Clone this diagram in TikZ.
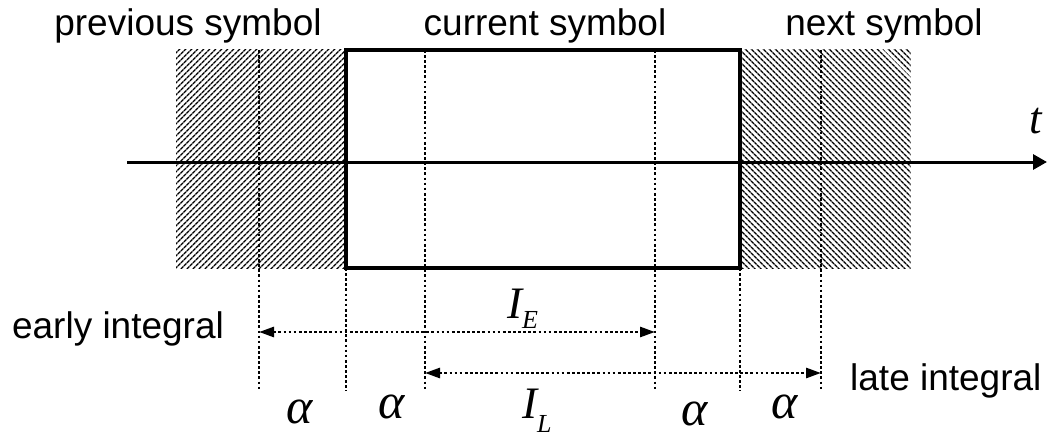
\documentclass[tikz,border=0pt]{standalone}
\usepackage{fontspec}
\setmainfont{Liberation Sans}
\newfontfamily\timesfont{Liberation Serif}
\usetikzlibrary{arrows.meta,patterns.meta}

\begin{document}
\begin{tikzpicture}[x=1pt,y=-1pt,
	txt/.style={ inner sep=0pt, anchor=base, font=\fontsize{37}{42}\selectfont },
	sym/.style={ inner sep=0pt, anchor=base, font=\fontsize{45}{50}\selectfont\timesfont\itshape },
	alph/.style={ sym, font=\fontsize{50}{54}\selectfont\timesfont\itshape },
	vline/.style={ line width=2.7pt, dash pattern=on 2.7pt off 2.4pt },
	dimline/.style={ vline, {Triangle[length=15pt,width=10pt]}-{Triangle[length=15pt,width=10pt]} },
	hatchl/.style={ rectangle, inner sep=0pt, minimum width=170pt, minimum height=218pt, pattern={Lines[angle=45,distance=4pt,line width=1.4pt]} },
	hatchr/.style={ hatchl, pattern={Lines[angle=-45,distance=4pt,line width=1.4pt]} }
]
\useasboundingbox (0,0) rectangle (1047,436);

\node at (188,36) (prev) [txt] {previous symbol};
\node at (545,36) (cur) [txt] {current symbol};
\node at (884,36) (next) [txt] {next symbol};

\node at (261,159) (prevbox) [hatchl] {};
\node at (825.5,159) (nextbox) [hatchr] {};
\node at (543,159) (curbox) [rectangle, draw, line width=3.2pt, inner sep=0pt, minimum width=394pt, minimum height=218pt] {};

\coordinate (t0) at (127,162);
\coordinate (t1) at (1047,162);
\draw[line width=3pt, -{Triangle[length=14pt,width=15pt]}] (t0) -- (t1);
\node at (1036,133) (t) [sym] {t};

\foreach \x/\y [count=\i] in {259/50, 346/268, 425/50, 655/50, 740/268, 821/50} {
	\coordinate (top\i) at (\x,\y);
	\coordinate (bot\i) at (\x,391);
	\draw[vline] (top\i) -- (bot\i);
}

\coordinate (eL) at (259,332);
\coordinate (eR) at (655,332);
\draw[dimline] (eL) -- (eR);
\coordinate (lL) at (425,373);
\coordinate (lR) at (821,373);
\draw[dimline] (lL) -- (lR);

\node at (118,338) (early) [txt] {early integral};
\node at (850,390) (late) [txt, anchor=base west] {late integral};

\node at (507,318) (IE) [sym, anchor=base west] {I\raisebox{-10pt}{\fontsize{26}{28}\selectfont E}};
\node at (522,418) (IL) [sym, anchor=base west] {I\raisebox{-14pt}{\fontsize{26}{28}\selectfont L}};

\node at (300,423) (a1) [alph] {α};
\node at (392,418) (a2) [alph] {α};
\node at (695,425) (a3) [alph] {α};
\node at (785,418) (a4) [alph] {α};

\end{tikzpicture}
\end{document}
